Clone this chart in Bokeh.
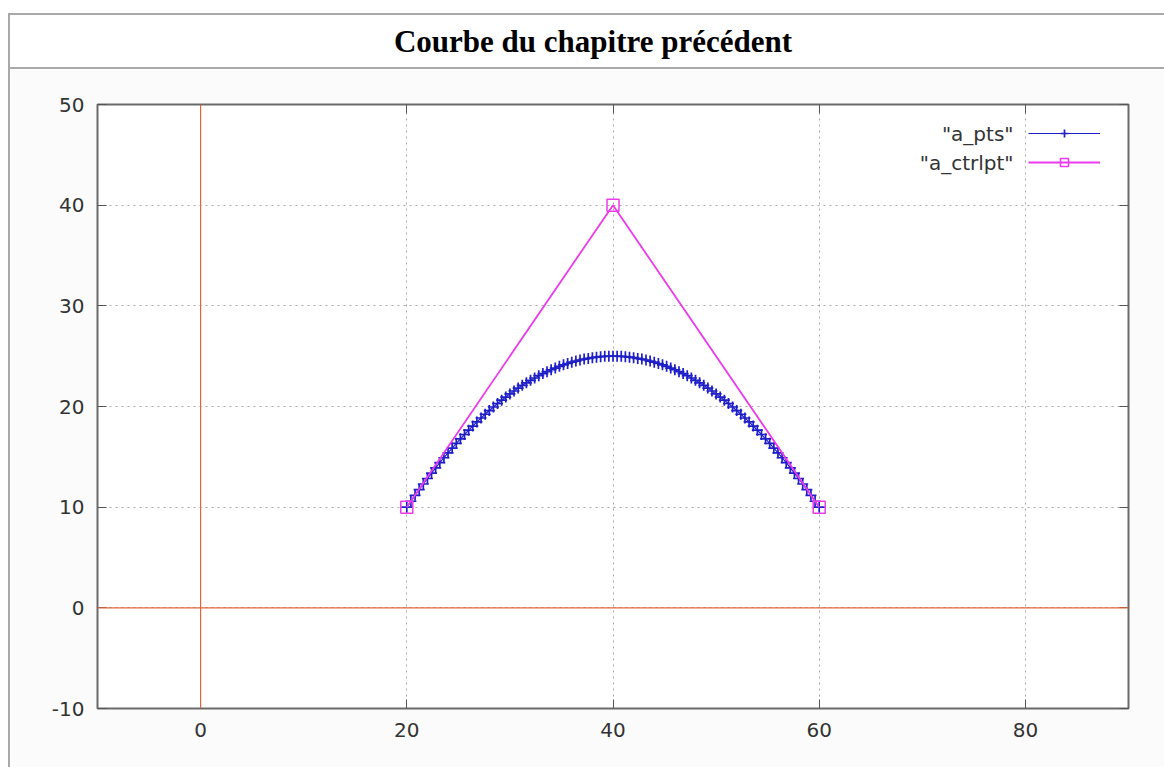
from bokeh.plotting import figure
from bokeh.models import (Div, Span, Label, Legend, LegendItem, LinearAxis,
                          FixedTicker, Range1d)
from bokeh.layouts import column, row
from bokeh.embed import file_html
from bokeh.resources import INLINE

# ---------------- data ----------------
title_text = "Courbe du chapitre précédent"

pts_x = [20.0, 20.4, 20.8, 21.2, 21.6, 22.0, 22.4, 22.8, 23.2, 23.6, 24.0, 24.4, 24.8, 25.2, 25.6,
         26.0, 26.4, 26.8, 27.2, 27.6, 28.0, 28.4, 28.8, 29.2, 29.6, 30.0, 30.4, 30.8, 31.2, 31.6,
         32.0, 32.4, 32.8, 33.2, 33.6, 34.0, 34.4, 34.8, 35.2, 35.6, 36.0, 36.4, 36.8, 37.2, 37.6,
         38.0, 38.4, 38.8, 39.2, 39.6, 40.0, 40.4, 40.8, 41.2, 41.6, 42.0, 42.4, 42.8, 43.2, 43.6,
         44.0, 44.4, 44.8, 45.2, 45.6, 46.0, 46.4, 46.8, 47.2, 47.6, 48.0, 48.4, 48.8, 49.2, 49.6,
         50.0, 50.4, 50.8, 51.2, 51.6, 52.0, 52.4, 52.8, 53.2, 53.6, 54.0, 54.4, 54.8, 55.2, 55.6,
         56.0, 56.4, 56.8, 57.2, 57.6, 58.0, 58.4, 58.8, 59.2, 59.6, 60.0]
pts_y = [10.0, 10.59, 11.18, 11.75, 12.3, 12.85, 13.38, 13.91, 14.42, 14.91, 15.4, 15.87, 16.34,
         16.79, 17.22, 17.65, 18.06, 18.47, 18.86, 19.23, 19.6, 19.95, 20.3, 20.63, 20.94, 21.25,
         21.54, 21.83, 22.1, 22.35, 22.6, 22.83, 23.06, 23.27, 23.46, 23.65, 23.82, 23.99, 24.14,
         24.27, 24.4, 24.51, 24.62, 24.71, 24.78, 24.85, 24.9, 24.95, 24.98, 24.99, 25.0,
         24.99, 24.98, 24.95, 24.9, 24.85, 24.78, 24.71, 24.62, 24.51, 24.4, 24.27, 24.14, 23.99,
         23.82, 23.65, 23.46, 23.27, 23.06, 22.83, 22.6, 22.35, 22.1, 21.83, 21.54, 21.25, 20.94,
         20.63, 20.3, 19.95, 19.6, 19.23, 18.86, 18.47, 18.06, 17.65, 17.22, 16.79, 16.34, 15.87,
         15.4, 14.91, 14.42, 13.91, 13.38, 12.85, 12.3, 11.75, 11.18, 10.59, 10.0]

ctrl_x = [20, 40, 60]
ctrl_y = [10, 40, 10]

series_labels = ['"a_pts"', '"a_ctrlpt"']
x_ticks = [0, 20, 40, 60, 80]
y_ticks = [-10, 0, 10, 20, 30, 40, 50]
x_limits = (-10, 90)
y_limits = (-10, 50)

# ---------------- styles ----------------
BLUE = "#1f1fc8"
MAGENTA = "#ec3aec"
ORANGE = "#e2643c"
FRAME_GRAY = "#a9a9a9"
TICK_FONT = "DejaVu Sans"
TICK_SIZE = "20px"
TICK_COLOR = "#333333"

FIG_W, FIG_H = 1154, 698

p = figure(width=FIG_W, height=FIG_H, output_backend="svg", toolbar_location=None,
           x_range=Range1d(*x_limits), y_range=Range1d(*y_limits),
           min_border_left=87, min_border_right=36, min_border_top=35, min_border_bottom=59,
           background_fill_color="#ffffff", border_fill_color="#fbfbfb")

p.outline_line_color = "#6a6a6a"
p.outline_line_width = 2

for ax in (p.xaxis[0], p.yaxis[0]):
    ax.axis_line_alpha = 0
    ax.major_tick_in = 9
    ax.major_tick_out = 0
    ax.major_tick_line_color = "#555555"
    ax.minor_tick_line_color = None
    ax.major_label_text_font = TICK_FONT
    ax.major_label_text_font_size = TICK_SIZE
    ax.major_label_text_color = TICK_COLOR
p.xaxis[0].ticker = FixedTicker(ticks=x_ticks)
p.yaxis[0].ticker = FixedTicker(ticks=y_ticks)
p.yaxis[0].major_label_overrides = {t: str(t) for t in y_ticks}
p.xaxis[0].major_label_overrides = {t: str(t) for t in x_ticks}
p.xaxis[0].major_label_standoff = 14
p.yaxis[0].major_label_standoff = 13

# mirrored ticks (top / right), no labels
top_ax = LinearAxis(ticker=FixedTicker(ticks=x_ticks), axis_line_alpha=0, major_tick_in=9,
                    major_tick_out=0, minor_tick_line_color=None, major_label_text_color=None,
                    major_tick_line_color="#555555")
right_ax = LinearAxis(ticker=FixedTicker(ticks=y_ticks), axis_line_alpha=0, major_tick_in=9,
                      major_tick_out=0, minor_tick_line_color=None, major_label_text_color=None,
                      major_tick_line_color="#555555")
p.add_layout(top_ax, "above")
p.add_layout(right_ax, "right")

p.xgrid.ticker = FixedTicker(ticks=x_ticks)
p.ygrid.ticker = FixedTicker(ticks=y_ticks)
for g in (p.xgrid[0], p.ygrid[0]):
    g.grid_line_color = "#a8a8a8"
    g.grid_line_dash = "2 4"
    g.grid_line_width = 1

# zero axes
p.add_layout(Span(location=0, dimension="height", line_color=ORANGE, line_width=1.2))
p.add_layout(Span(location=0, dimension="width", line_color=ORANGE, line_width=1.2))

# series
r1 = p.line(pts_x, pts_y, line_color=BLUE, line_width=1.2)
r1m = p.scatter(pts_x, pts_y, marker="cross", size=11, line_color=BLUE, line_width=1.7)
r2 = p.line(ctrl_x, ctrl_y, line_color=MAGENTA, line_width=1.8)
r2m = p.scatter(ctrl_x, ctrl_y, marker="square", size=12, fill_color=None,
                line_color=MAGENTA, line_width=1.5)

legend = Legend(items=[LegendItem(label=" ", renderers=[r1, r1m]),
                       LegendItem(label=" ", renderers=[r2, r2m])],
                location="top_right", glyph_width=72, glyph_height=20, spacing=9,
                margin=19, padding=0, label_width=9, label_standoff=0,
                label_text_font_size="1px", label_text_color=None,
                border_line_alpha=0, background_fill_alpha=0)
p.add_layout(legend)

for lbl, yy in zip(series_labels, [575, 546]):
    p.add_layout(Label(x=916, y=yy, x_units="screen", y_units="screen", text=lbl,
                       text_align="right", text_baseline="middle", text_font=TICK_FONT,
                       text_font_size=TICK_SIZE, text_color=TICK_COLOR))

title_div = Div(
    text=('<div style="width:1154px;height:54px;line-height:54px;text-align:center;'
          'padding-left:12px;box-sizing:border-box;font-family:\'Liberation Serif\',serif;'
          'font-weight:bold;font-size:31px;color:#000;">' + title_text + '</div>'),
    width=1156, height=56, margin=(13, 0, 0, 8),
    styles={"border-top": f"2px solid {FRAME_GRAY}", "border-left": f"2px solid {FRAME_GRAY}",
            "border-bottom": f"2px solid {FRAME_GRAY}", "box-sizing": "border-box",
            "background-color": "#ffffff", "overflow": "hidden"})

left_border = Div(text="", width=2, height=FIG_H, margin=(0, 0, 0, 8),
                  styles={"background-color": FRAME_GRAY})
p.margin = (0, 0, 0, 0)

layout = column(title_div, row(left_border, p, spacing=0), spacing=0)

open("out.html", "w").write(file_html(layout, INLINE))
